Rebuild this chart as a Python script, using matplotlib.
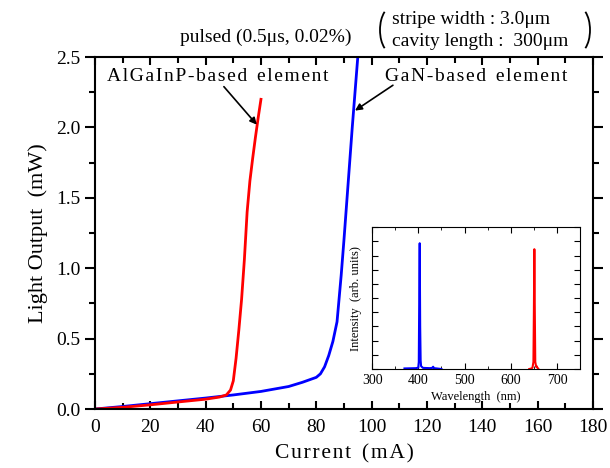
import numpy as np
import matplotlib
matplotlib.use("Agg")
import matplotlib.pyplot as plt
from matplotlib.ticker import MultipleLocator, NullFormatter
from matplotlib.patches import Arc

plt.rcParams['font.family'] = ['Liberation Serif', 'DejaVu Serif']

# L-I curves (mA, mW)
red_I = [0, 10, 20, 30, 40, 45, 47.5, 49, 50, 51, 52, 53, 54, 55, 56, 57, 58, 59, 60]
red_P = [0, 0.012, 0.03, 0.05, 0.07, 0.085, 0.1, 0.135, 0.2, 0.36, 0.56, 0.78, 1.06, 1.4, 1.62, 1.78, 1.93, 2.07, 2.2]
blue_I = [0, 10, 20, 30, 40, 50, 60, 70, 75, 80, 81.5, 83, 84.5, 86, 87.5, 89, 90, 91.5, 93, 94, 95]
blue_P = [0, 0.018, 0.038, 0.058, 0.078, 0.1, 0.125, 0.16, 0.19, 0.225, 0.25, 0.3, 0.38, 0.48, 0.62, 0.95, 1.2, 1.6, 2.0, 2.25, 2.5]

# spectra (nm, arb.)
blue_wl = [370, 395, 400, 401, 402, 403, 404, 405, 406, 410, 425, 430, 432, 434, 440, 450]
blue_int = [0.004, 0.006, 0.01, 0.05, 0.5, 0.887, 0.3, 0.06, 0.02, 0.008, 0.006, 0.008, 0.016, 0.006, 0.004, 0.0]
red_wl = [640, 645, 647, 649, 650, 651, 652, 653, 655, 656, 657, 660]
red_int = [0.0, 0.004, 0.01, 0.05, 0.4, 0.845, 0.4, 0.05, 0.015, 0.02, 0.012, 0.0]


def spaced(s):
    # mimic the wide letter tracking of the original
    return '\u200a'.join(s)


fig = plt.figure(figsize=(6.1, 4.68), dpi=100)
ax = fig.add_axes([0.1557, 0.126, 0.8163, 0.752])
ax.plot(blue_I, blue_P, color='blue', lw=2)
ax.plot(red_I, red_P, color='red', lw=2)
ax.set_xlim(0, 180)
ax.set_ylim(0, 2.5)
ax.xaxis.set_major_locator(MultipleLocator(20))
ax.xaxis.set_minor_locator(MultipleLocator(10))
ax.yaxis.set_major_locator(MultipleLocator(0.5))
ax.yaxis.set_minor_locator(MultipleLocator(0.25))
ax.yaxis.set_major_formatter(plt.FormatStrFormatter('%.1f'))
ax.tick_params(axis='x', which='both', direction='in', top=True, labelsize=14, width=1.5, pad=7)
ax.tick_params(axis='x', which='major', length=6)
ax.tick_params(axis='x', which='minor', length=4)
ax.tick_params(axis='y', which='both', direction='out', labelsize=14, width=1.5)
ax.tick_params(axis='y', which='major', length=7)
ax.tick_params(axis='y', which='minor', length=4)
ax.tick_params(axis='y', which='both', right=True)
for s in ax.spines.values():
    s.set_linewidth(1.5)
ax.set_xlabel(spaced('Current') + '  ' + spaced('(mA)'), fontsize=15.5, labelpad=6)
ax.set_ylabel('Light Output  (mW)', fontsize=16, labelpad=6)

ax.text(4.3, 2.365, spaced('AlGaInP-based') + '  ' + spaced('element'), fontsize=14, va='center')
ax.text(104.8, 2.365, spaced('GaN-based') + '  ' + spaced('element'), fontsize=14, va='center')
ax.annotate('', xy=(58.5, 2.02), xytext=(46.6, 2.29),
            arrowprops=dict(arrowstyle='-|>', color='black', lw=1.2, shrinkA=0, shrinkB=0))
ax.annotate('', xy=(94, 2.12), xytext=(107.7, 2.30),
            arrowprops=dict(arrowstyle='-|>', color='black', lw=1.2, shrinkA=0, shrinkB=0))

fig.text(180 / 610, 1 - 37 / 468, 'pulsed (0.5\u03bcs, 0.02%)', fontsize=14, va='center')
fig.text(392 / 610, 1 - 19 / 468, 'stripe width : 3.0\u03bcm', fontsize=14, va='center')
fig.text(392 / 610, 1 - 42 / 468, 'cavity length :  300\u03bcm', fontsize=14, va='center')
fig.add_artist(Arc((3.92, 4.38), 0.24, 0.46, theta1=112, theta2=248,
                   transform=fig.dpi_scale_trans, color='black', lw=1.3))
fig.add_artist(Arc((5.78, 4.38), 0.24, 0.46, theta1=-68, theta2=68,
                   transform=fig.dpi_scale_trans, color='black', lw=1.3))

ins = fig.add_axes([0.61, 0.2115, 0.341, 0.303])
ins.plot(blue_wl, blue_int, color='blue', lw=1.5)
ins.plot(red_wl, red_int, color='red', lw=1.5)
ins.set_xlim(300, 750)
ins.set_ylim(0, 1)
ins.xaxis.set_major_locator(MultipleLocator(100))
ins.xaxis.set_minor_locator(MultipleLocator(50))
ins.yaxis.set_major_locator(MultipleLocator(0.1))
ins.yaxis.set_major_formatter(NullFormatter())
ins.tick_params(which='both', direction='in', top=True, right=True, labelsize=10)
ins.tick_params(which='major', length=4)
ins.tick_params(which='minor', length=2)
ins.set_xlabel('Wavelength  (nm)', fontsize=9, labelpad=3)
ins.set_ylabel('Intensity  (arb. units)', fontsize=9, labelpad=4)

fig.savefig('out.png', dpi=100)
